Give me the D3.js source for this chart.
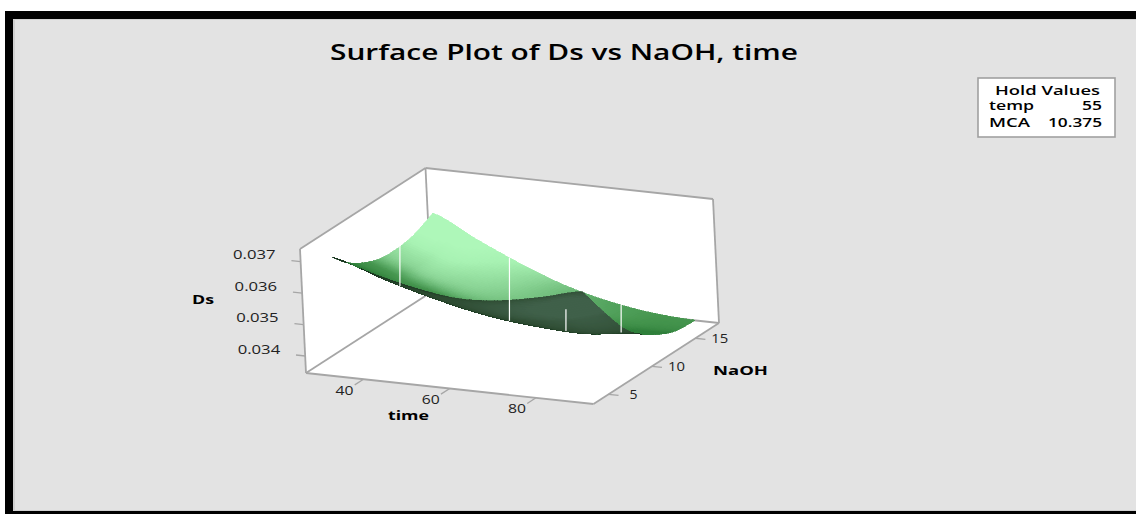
<!DOCTYPE html>
<html><head><meta charset="utf-8">
<style>html,body{margin:0;padding:0;background:#fff}svg{display:block}text{font-family:"Open Sans","Noto Sans",sans-serif;fill:#111}</style>
<script src="https://cdnjs.cloudflare.com/ajax/libs/d3/7.8.5/d3.min.js"></script>
</head><body><svg id="c" width="1136" height="514"></svg>
<script>
const titleText = "Surface Plot of Ds vs NaOH, time";
const holdNames = ["temp","MCA"];
const holdValues = ["55","10.375"];
const timeTicks = [40,60,80];
const naohTicks = [5,10,15];
const dsTicks = [0.034,0.035,0.036,0.037];
const naohRows = [5.2,6.9,9.05,11.2,14.1,16.7];
const timeSteps = [0,1,2,3,4,5,6];
const rowTimeEnd = [88,90,90,90,90,90];
const dsRow0 = [.03685,.03645,.03614,.03596,.03604,.03629,.03661];
const dsRow1 = [.03637,.03590,.03551,.03523,.03515,.03527,.03559];
const dsRow2 = [.03600,.03551,.03503,.03470,.03452,.03448,.03472];
const dsRow3 = [.03582,.03531,.03484,.03448,.03425,.03417,.03421];
const dsRow4 = [.03588,.03535,.03484,.03444,.03413,.03389,.03377];
const dsRow5 = [.03620,.03551,.03488,.03435,.03399,.03377,.03368];
const dsGrid = [dsRow0,dsRow1,dsRow2,dsRow3,dsRow4,dsRow5];
const seamTimes = [34.9,60.3,86.2];
const undersideSeamTimes = [73.4];

const svg = d3.select("#c");
// frame
svg.append("rect").attr("x",5).attr("y",11).attr("width",1131).attr("height",503).attr("fill","#000");
svg.append("rect").attr("x",13).attr("y",19).attr("width",1123).attr("height",492).attr("fill","#d0d0d0");
svg.append("rect").attr("x",15).attr("y",20).attr("width",1121).attr("height",490).attr("fill","#e3e3e3");

// axis scales to box fractions, and an oblique projection of the box
const uS = d3.scaleLinear().domain([30,90]).range([.05,.95]);
const vS = d3.scaleLinear().domain([4,17]).range([.05,.95]);
const wS = d3.scaleLinear().domain([.03346,.03740]).range([0,1]);
const O=[306,373], U=[287.5,31], V=[125.5,-81], W=[-6,-124];
const box=(u,v,w)=>[O[0]+u*U[0]+v*V[0]+w*W[0], O[1]+u*U[1]+v*V[1]+w*W[1]];
const lineGen=d3.line();

// box
svg.append("path").attr("fill","#fff").attr("d",lineGen([box(0,0,0),box(0,0,1),box(0,1,1),box(1,1,1),box(1,1,0),box(1,0,0)])+"Z");
const edgeColor="#a6a6a6";
const edge=(a,b)=>svg.append("path").attr("fill","none").attr("stroke",edgeColor).attr("stroke-width",1.8).attr("d",lineGen([box(...a),box(...b)]));
edge([0,0,0],[0,1,0]); edge([0,1,0],[1,1,0]); edge([0,1,0],[0,1,1]);

// surface
function cr(p,t){const n=p.length-1;const i=Math.min(Math.floor(t),n-1),f=t-i;
  const a=p[Math.max(i-1,0)],b=p[i],c=p[i+1],d=p[Math.min(i+2,n)];
  return .5*(2*b+(c-a)*f+(2*a-5*b+4*c-d)*f*f+(3*b-a-3*c+d)*f*f*f);}
const nR=naohRows.length-1,nC=timeSteps.length-1;
function sample(r,c){
  const row=dsGrid.map(g=>cr(g,c));
  const ds=cr(row,r);
  const n=cr(naohRows,r);
  const end=cr(rowTimeEnd,r);
  const t=30+(end-30)*c/nC;
  return {u:uS(t),v:vS(n),w:wS(ds)};
}
const subR=70,subC=90,reach=9;
const pts=[];
for(let i=0;i<=subR;i++){const a=[];for(let j=0;j<=subC;j++){const s=sample(i/subR*nR,j/subC*nC);s.p=box(s.u,s.v,s.w);a.push(s);}pts.push(a);}
const topRamp=d3.scaleLinear().domain([-.4,0,.2,.5,.8,1]).range(["#2f7f3a","#46964f","#5fae6a","#8ad495","#a8f2b3","#aef7b9"]).clamp(true);
const botRamp=d3.scaleLinear().domain([0,.25,1]).range(["#17351e","#2c4a30","#40604a"]).clamp(true);
const quads=[];let maxArea=0;
for(let i=0;i<subR;i++)for(let j=0;j<subC;j++){
  const a=pts[i][j],b=pts[i][j+1],c=pts[i+1][j+1],d=pts[i+1][j];
  const area=((c.p[0]-a.p[0])*(d.p[1]-b.p[1])-(d.p[0]-b.p[0])*(c.p[1]-a.p[1]))/2;
  // slopes taken over a wider stencil so that the shading stays smooth
  const j0=Math.max(j-reach,0),j1=Math.min(j+reach,subC),i0=Math.max(i-reach,0),i1=Math.min(i+reach,subR);
  const du=(pts[i][j1].w-pts[i][j0].w)/(pts[i][j1].u-pts[i][j0].u);
  const dv=(pts[i1][j].w-pts[i0][j].w)/(pts[i1][j].v-pts[i0][j].v);
  const cu=(a.u+c.u)/2,cv=(a.v+c.v)/2,cw=(a.w+b.w+c.w+d.w)/4;
  const q={poly:[a.p,b.p,c.p,d.p],area,du,dv,depth:.59*cu-1.305*cv+cw};
  maxArea=Math.max(maxArea,Math.abs(area));quads.push(q);
}
quads.sort((a,b)=>a.depth-b.depth);
const refSign=Math.sign(U[0]*V[1]-U[1]*V[0]);
const gS=svg.append("g").attr("shape-rendering","crispEdges");
gS.selectAll("path").data(quads).join("path")
 .attr("d",q=>lineGen(q.poly)+"Z")
 .each(function(q){
   const top=q.area*refSign>0;
   const col=top?topRamp(-q.du*.7+q.dv*1.1):botRamp(Math.abs(q.area)/maxArea*1.6);
   d3.select(this).attr("fill",col).attr("stroke",col).attr("stroke-width",.6);
 });

// white seams in the rendered surface: they span what the surface covers at that column
const seamX=t=>box(uS(t),vS(10),0)[0];
function spanAt(x,undersideOnly){
  let lo=1e9,hi=-1e9;
  quads.forEach(q=>{
    if(undersideOnly&&q.area*refSign>0)return;
    const xs=q.poly.map(p=>p[0]);
    if(d3.min(xs)<=x&&d3.max(xs)>=x){q.poly.forEach(p=>{lo=Math.min(lo,p[1]);hi=Math.max(hi,p[1]);});}
  });return [lo,hi];
}
const drawSeam=(t,f,startFrac)=>{const x=seamX(t),s=spanAt(x,f);
  svg.append("line").attr("x1",x).attr("x2",x).attr("y1",s[0]+(s[1]-s[0])*startFrac).attr("y2",s[1]-1).attr("stroke","#fff").attr("stroke-width",1.2);};
seamTimes.forEach(t=>drawSeam(t,false,0));
undersideSeamTimes.forEach(t=>drawSeam(t,true,.42));

// front box edges
edge([0,0,0],[0,0,1]); edge([0,0,1],[0,1,1]); edge([0,1,1],[1,1,1]); edge([1,1,1],[1,1,0]);
edge([1,1,0],[1,0,0]); edge([1,0,0],[0,0,0]);

// ticks
const tickStroke=(a,b)=>svg.append("path").attr("stroke",edgeColor).attr("stroke-width",1.3).attr("fill","none").attr("d",lineGen([a,b]));
const label=(s,x,y,len,size,weight,fill)=>svg.append("text").attr("x",x).attr("y",y).attr("font-size",size).attr("font-weight",weight||400)
  .attr("textLength",len).attr("lengthAdjust","spacingAndGlyphs").style("fill",fill||"#222").text(s);
timeTicks.forEach(t=>{const p=box(uS(t),0,0);tickStroke(p,box(uS(t),-.07,0));
  label(String(t),p[0]-28,p[1]+15.5,18,13);});
naohTicks.forEach(n=>{const p=box(1,vS(n),0);tickStroke(p,box(1.035,vS(n),0));
  label(String(n),p[0]+(n<10?21:16),p[1]+5,n<10?8:17,13);});
dsTicks.forEach(d=>{const p=box(0,0,wS(d));tickStroke(p,box(-.032,0,wS(d)));
  label(d3.format(".3f")(d),p[0]-67.5,p[1]-2.5,42.5,13);});

// axis titles
label("Ds",192,304,22,13,700,"#000");
label("time",388,420,41,13,700,"#000");
label("NaOH",713,375,55,13,700,"#000");

// title
label(titleText,330,60,468,21,600,"#000");

// hold values box
svg.append("rect").attr("x",978).attr("y",78).attr("width",137).attr("height",59).attr("fill","#fff").attr("stroke","#a0a0a0").attr("stroke-width",1.6);
label("Hold Values",995,95,105,12.5,600,"#000");
[0,1].forEach(i=>{
  const y=110+i*17;
  label(holdNames[i],989,y,i?41:45,12.5,600,"#000");
  const len=i?54:20;
  label(holdValues[i],1102-len,y,len,12.5,600,"#000");
});
</script></body></html>
